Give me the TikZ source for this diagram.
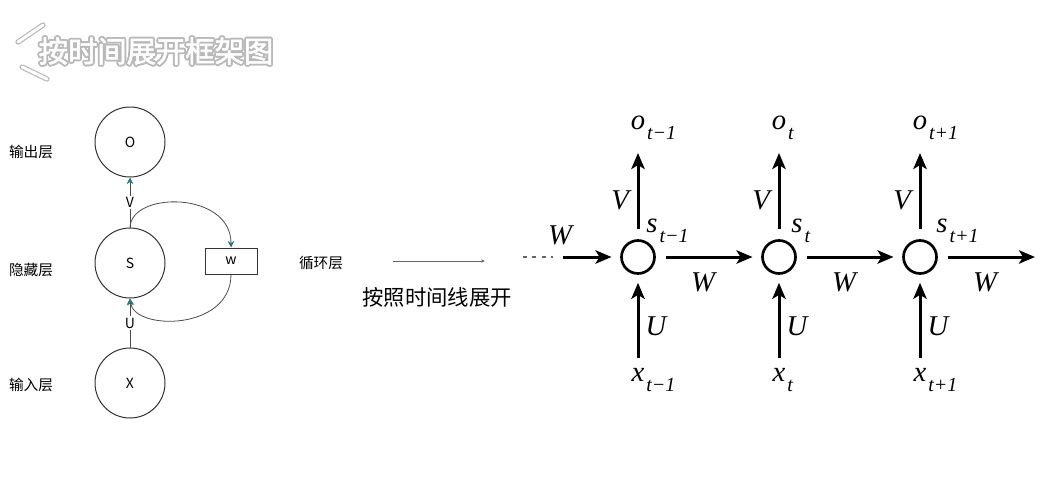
\documentclass[tikz,border=0pt]{standalone}
\usepackage{fontspec}
\setmainfont{Liberation Serif}
\newfontfamily\cjk{Noto Sans CJK SC}
\newfontfamily\titlefont[FakeBold=2]{Noto Sans CJK SC}
\usetikzlibrary{arrows.meta}
\definecolor{tip teal}{RGB}{40,120,125}
\newcommand{\seqlab}[2]{\textit{#1}\rlap{\hspace{1.5pt}\raisebox{-7pt}{\fontsize{15}{15}\selectfont\textit{#2}}}}

\begin{document}
\begin{tikzpicture}[x=0.75pt,y=-0.75pt,
  layer/.style={circle, draw=black!80, line width=0.75pt, minimum size=52.5pt, inner sep=0pt, font=\cjk\fontsize{10.5}{10.5}\selectfont},
  loopbox/.style={draw=black!80, line width=0.75pt, minimum width=39pt, minimum height=19.5pt, inner sep=0pt, font=\cjk\fontsize{10.5}{10.5}\selectfont},
  tag/.style={font=\cjk\fontsize{11}{11}\selectfont},
  weight/.style={fill=white, inner sep=1pt, font=\cjk\fontsize{10.5}{10.5}\selectfont},
  link/.style={draw=black!70, line width=0.6pt, -{Stealth[length=5pt,width=5pt,color=tip teal]}},
  cell/.style={circle, draw=black, line width=2pt, minimum size=24.75pt, inner sep=0pt},
  big/.style={line width=2.25pt, -{Stealth[length=12pt,width=10pt,inset=3pt]}},
  letter/.style={inner sep=0pt, font=\fontsize{21.5}{21.5}\selectfont\itshape},
  heading/.style={font=\titlefont\fontsize{22}{22}\selectfont},
  deco/.style={draw=gray!55, double=white, double distance=2.2pt, line width=0.9pt, line cap=round}]

\useasboundingbox (0,0) rectangle (1041,500);

% title
\draw[deco] (18,42) -- (43,25);
\draw[deco] (22,67) -- (47,79);
\coordinate (title) at (156,51);
\foreach \a [count=\k] in {0,22.5,...,337.5}
  \node[heading, text=gray!55, shift={(\a:1.8)}] (title halo \k) at (title) {按时间展开框架图};
\node[heading, text=white] (title text) at (title) {按时间展开框架图};

% folded network
\node[layer] (O) at (130,142) {O};
\node[layer] (S) at (130,263) {S};
\node[layer] (X) at (130,383) {X};
\node[loopbox] (w) at (231,261) {w};
\node[tag] (out) at (31,152) {输出层};
\node[tag] (hid) at (31,270) {隐藏层};
\node[tag] (in) at (31,385) {输入层};
\node[tag] (rec) at (321,263) {循环层};

\draw[link] (S) -- node[weight] (V) {V} (O);
\draw[link] (X) -- node[weight] (U) {U} (S);
\draw[link] (S.north) .. controls (131,191) and (231,191) .. (w.north);
\draw[link] (w.south) .. controls (231,331) and (134,331) .. (S.south);

% unfold
\coordinate (ua) at (393,261);
\coordinate (ub) at (485,261);
\draw[draw=black!60, line width=0.6pt, -{Stealth[length=3pt,width=2.5pt]}] (ua) -- (ub);
\node[font=\cjk\fontsize{16}{16}\selectfont] (unfold) at (437,297) {按照时间线展开};

% unrolled network
\foreach \i/\x/\sub/\off in {1/638/t−1/14, 2/779/t/18, 3/920/t+1/22}{
  \node[cell] (s\i) at (\x,257) {};
  \node[letter] (o\i) at (\x,128) {\seqlab{o}{\sub}};
  \node[letter] (x\i) at (\x,380) {\seqlab{x}{\sub}};
  \node[letter] (sl\i) at (\x+\off,231) {\seqlab{s}{\sub}};
  \node[letter] (V\i) at (\x-18,200) {V};
  \node[letter] (U\i) at (\x+18,326) {U};
  \node[letter] (W\i) at (\x+65,282) {W};
  \coordinate (top\i) at (\x,153);
  \coordinate (bot\i) at (\x,358);
  \draw[big, shorten <=7.5pt] (s\i) -- (top\i);
  \draw[big, shorten >=6pt] (bot\i) -- (s\i);
}
\coordinate (prev a) at (523,257);
\coordinate (prev b) at (553,257);
\coordinate (prev) at (563,257);
\coordinate (next) at (1035,257);
\draw[line width=2pt, dash pattern=on 3pt off 4pt, draw=black!60] (prev a) -- (prev b);
\draw[big, shorten >=6.5pt] (prev) -- (s1);
\draw[big, shorten <=7.5pt, shorten >=6.5pt] (s1) -- (s2);
\draw[big, shorten <=7.5pt, shorten >=6.5pt] (s2) -- (s3);
\draw[big, shorten <=7.5pt] (s3) -- (next);
\node[letter] (W0) at (560,235) {W};

\end{tikzpicture}
\end{document}
